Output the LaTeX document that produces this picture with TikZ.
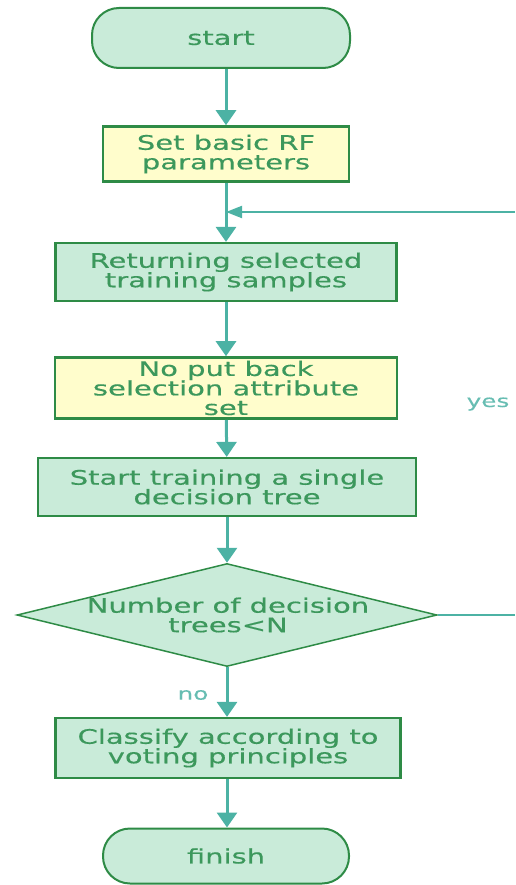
\documentclass[tikz,border=0pt]{standalone}
\usepackage{fontspec}
\setmainfont{DejaVu Sans}[FakeStretch=1.45, FakeBold=0.4]
\usetikzlibrary{arrows.meta,shapes.geometric}
\definecolor{boxfill}{RGB}{201,235,217}
\definecolor{boxline}{RGB}{46,139,70}
\definecolor{boxtext}{RGB}{60,152,92}
\definecolor{flowline}{RGB}{76,178,164}
\definecolor{notefill}{RGB}{255,253,204}
\tikzset{
  txt/.style={font=\fontsize{20}{19.5}\selectfont, text=boxtext, align=center},
  term/.style={txt, draw=boxline, fill=boxfill, line width=2pt, rounded corners=27pt, inner sep=0pt},
  proc/.style={txt, draw=boxline, fill=boxfill, line width=2.2pt, inner sep=0pt},
  note/.style={proc, fill=notefill, line width=2.6pt},
  decision/.style={diamond, draw=boxline, fill=boxfill, line width=1.5pt, inner sep=0pt},
  flow/.style={draw=flowline, line width=3pt, -{Triangle[width=20pt,length=15pt]}},
  tag/.style={font=\fontsize{17}{19}\selectfont, text=flowline!85!white}
}
\begin{document}
\begin{tikzpicture}[x=1pt, y=-1pt]
        \useasboundingbox (0,0) rectangle (515,885);
        % Nodes (top to bottom)
        \node (start) at (221,38) [term, minimum width=258pt, minimum height=60pt] {start};
        \node (params) at (226,154) [note, minimum width=246pt, minimum height=55pt] {Set basic RF\\parameters};
        \node (samples) at (226,272) [proc, minimum width=341pt, minimum height=58pt] {Returning selected\\training samples};
        \node (attr) at (226,388) [note, minimum width=342pt, minimum height=61pt] {No put back\\selection attribute\\set};
        \node (train) at (227,487) [proc, minimum width=378pt, minimum height=58pt] {Start training a single\\decision tree};
        \node (decide) at (227,615) [decision, minimum width=420pt, minimum height=103pt] {};
        \node (decidetxt) at (228,615) [txt] {Number of decision\\trees<N};
        \node (classify) at (228,748) [proc, minimum width=345pt, minimum height=60pt] {Classify according to\\voting principles};
        \node (finish) at (226,856) [term, minimum width=246pt, minimum height=55pt] {finish};
        % Loop ends (cut by the picture edge)
        \coordinate (loopin) at (515,212);
        \coordinate (loopout) at (515,615);
        % Labels
        \node (yes) at (488,404) [tag] {yes};
        \node (no) at (193,695) [tag] {no};
        % Edges
        \draw[flow] (start.south -| params) -- (params);
        \draw[flow] (params) -- (samples);
        \draw[flow] (samples) -- (attr);
        \draw[flow] (attr) -- (train);
        \draw[flow] (train) -- (decide);
        \draw[flow] (decide) -- (decide.south |- classify.north);
        \draw[flow] (classify.south -| decide) -- (finish.north -| decide);
        \draw[draw=flowline, line width=2pt] (decide.east) -- (loopout);
        \draw[draw=flowline, line width=2pt, -{Triangle[width=12pt,length=16pt]}] (loopin) -- (samples.north |- loopin);
      \end{tikzpicture}
\end{document}
